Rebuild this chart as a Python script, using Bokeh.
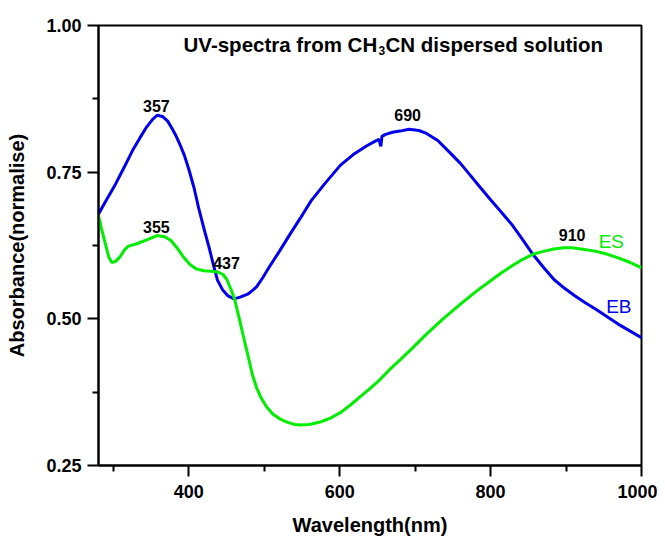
from bokeh.plotting import figure
from bokeh.models import FixedTicker, PrintfTickFormatter, Label
from bokeh.embed import file_html
from bokeh.resources import INLINE

# ---- data ----
eb_nm = [280, 290, 303, 315, 325, 335, 343, 352, 358, 365, 372, 378, 383, 388, 394, 400,
         407, 413, 420, 427, 433, 438, 445, 452, 460, 468, 478, 485, 490, 498, 506,
         520, 534, 548, 562, 580, 601, 618, 636, 646, 652, 654.5, 656, 660, 670,
         680, 692, 705, 715, 730, 747, 760, 771, 785, 800, 814, 828, 842, 856, 870,
         884, 898, 912, 926, 940, 955, 969, 985, 1000]
eb_val = [0.678, 0.701, 0.730, 0.760, 0.786, 0.808, 0.825, 0.840, 0.847, 0.845, 0.837,
          0.824, 0.812, 0.798, 0.779, 0.755, 0.723, 0.689, 0.654, 0.621, 0.590, 0.566,
          0.549, 0.539, 0.534, 0.537, 0.542, 0.549, 0.555, 0.570, 0.587, 0.615, 0.644,
          0.672, 0.701, 0.730, 0.762, 0.780, 0.795, 0.802, 0.806, 0.794, 0.811, 0.814,
          0.818, 0.820, 0.823, 0.821, 0.816, 0.804, 0.782, 0.765, 0.748, 0.726, 0.703,
          0.682, 0.661, 0.636, 0.610, 0.588, 0.567, 0.552, 0.539, 0.527, 0.516, 0.503,
          0.491, 0.479, 0.468]

es_nm = [280, 284, 289, 294, 298, 303, 309, 315, 320, 331, 345, 358, 368, 376, 385,
         393, 402, 410, 420, 430, 438, 445, 450, 456, 461, 467, 472, 478, 484, 490,
         496, 503, 512, 520, 530, 540, 548, 560, 574, 588, 602, 615, 625, 640, 653,
         665, 680, 697, 715, 737, 760, 780, 800, 815, 828, 842, 856, 870, 884, 897,
         907, 920, 940, 955, 969, 985, 1000]
es_val = [0.678, 0.655, 0.630, 0.605, 0.596, 0.598, 0.606, 0.618, 0.624, 0.628, 0.635,
          0.642, 0.640, 0.634, 0.620, 0.605, 0.592, 0.585, 0.582, 0.581, 0.580, 0.576,
          0.568, 0.550, 0.532, 0.500, 0.472, 0.440, 0.406, 0.382, 0.365, 0.350, 0.337,
          0.330, 0.324, 0.320, 0.319, 0.320, 0.324, 0.331, 0.341, 0.354, 0.365, 0.381,
          0.396, 0.412, 0.430, 0.451, 0.474, 0.500, 0.525, 0.546, 0.565, 0.579, 0.590,
          0.601, 0.610, 0.615, 0.619, 0.621, 0.621, 0.619, 0.615, 0.610, 0.604, 0.596,
          0.587]

peak_labels = ["357", "355", "437", "690", "910"]
x_ticks = [400, 600, 800, 1000]
x_minor = [300, 500, 700, 900]
y_ticks = [0.25, 0.50, 0.75, 1.00]
y_minor = [0.375, 0.625, 0.875]

title_parts = ["UV-spectra from CH", "3", "CN dispersed solution"]
x_title = "Wavelength(nm)"
y_title = "Absorbance(normalise)"
series_names = ["ES", "EB"]

BLUE = "#0000EE"
GREEN = "#00EE00"
FONT = "Liberation Sans"

p = figure(width=657, height=538, output_backend="svg", toolbar_location=None,
           x_range=(280.3, 1000), y_range=(0.25, 1.0),
           min_border_left=98, min_border_right=16, min_border_top=25,
           min_border_bottom=73)
p.grid.visible = False
p.outline_line_color = "black"
p.outline_line_width = 2
p.background_fill_color = "white"
p.border_fill_color = "white"

p.line(eb_nm, eb_val, line_color=BLUE, line_width=3)
p.line(es_nm, es_val, line_color=GREEN, line_width=3)

for ax in (p.xaxis[0], p.yaxis[0]):
    ax.axis_line_width = 2
    ax.major_tick_line_width = 2
    ax.minor_tick_line_width = 2
    ax.major_tick_out = 11
    ax.major_tick_in = 0
    ax.minor_tick_out = 6
    ax.minor_tick_in = 0
    ax.major_label_text_font = FONT
    ax.major_label_text_font_style = "bold"
    ax.major_label_text_font_size = "18px"
    ax.major_label_text_color = "black"
    ax.axis_label_text_font = FONT
    ax.axis_label_text_font_style = "bold"
    ax.axis_label_text_font_size = "20px"
    ax.axis_label_text_color = "black"

p.xaxis.ticker = FixedTicker(ticks=x_ticks, minor_ticks=x_minor)
p.yaxis.ticker = FixedTicker(ticks=y_ticks, minor_ticks=y_minor)
p.yaxis.formatter = PrintfTickFormatter(format="%.2f")
p.xaxis.major_label_standoff = 8
p.yaxis.major_label_standoff = 6
p.xaxis.axis_label = x_title
p.xaxis.axis_label_standoff = 13
p.yaxis.axis_label = y_title
p.yaxis.axis_label_standoff = 15

# peak annotations (placed at the peaks they name)
ann_x = [357, 357, 450, 690, 908]
ann_y = [0.855, 0.6485, 0.5865, 0.839, 0.634]
for t, xx, yy in zip(peak_labels, ann_x, ann_y):
    p.add_layout(Label(x=xx, y=yy, y_offset=5, text=t, text_font=FONT,
                       text_font_style="bold", text_font_size="16px",
                       text_align="center", text_baseline="alphabetic",
                       text_color="black"))

# series names
p.add_layout(Label(x=960, y=0.6234, y_offset=5, text=series_names[0], text_font=FONT,
                   text_font_size="19px", text_align="center",
                   text_baseline="alphabetic", text_color=GREEN))
p.add_layout(Label(x=970, y=0.5125, y_offset=5, text=series_names[1], text_font=FONT,
                   text_font_size="19px", text_align="center",
                   text_baseline="alphabetic", text_color=BLUE))

# title with subscript, drawn inside the frame
ty = 1.0 - (50 - 25) / 586.0
p.add_layout(Label(x=393, y=ty, y_offset=6, text=title_parts[0], text_font=FONT,
                   text_font_style="bold", text_font_size="20.5px",
                   text_baseline="alphabetic", text_color="black"))
p.add_layout(Label(x=393, y=ty, x_offset=195, y_offset=0, text=title_parts[1],
                   text_font=FONT, text_font_style="bold", text_font_size="12px",
                   text_baseline="alphabetic", text_color="black"))
p.add_layout(Label(x=393, y=ty, x_offset=202, y_offset=6, text=title_parts[2],
                   text_font=FONT, text_font_style="bold", text_font_size="20.5px",
                   text_baseline="alphabetic", text_color="black"))

open("out.html", "w").write(file_html(p, INLINE))
